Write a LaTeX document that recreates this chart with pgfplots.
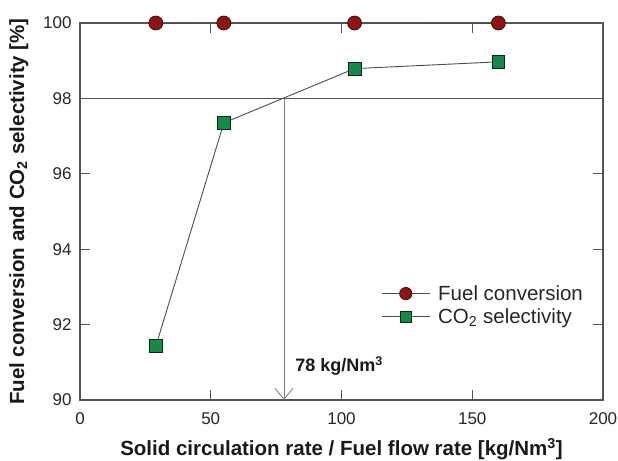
\documentclass[border=0pt]{standalone}
\usepackage{fontspec}
\setmainfont{Liberation Sans}
\usepackage{pgfplots}
\pgfplotsset{compat=1.18}
\usetikzlibrary{arrows.meta}
\definecolor{fuelred}{HTML}{8E1414}
\definecolor{cogreen}{HTML}{14894A}
\definecolor{axgray}{HTML}{555555}
\begin{document}
\begin{tikzpicture}
\begin{axis}[
  name=ax,
  scale only axis,
  width=523bp, height=377bp,
  xmin=0, xmax=200, ymin=90, ymax=100,
  xtick={0,50,100,150,200},
  ytick={90,92,94,96,98,100},
  tick align=inside,
  tick pos=both,
  xticklabel pos=bottom, yticklabel pos=left,
  major tick length=10bp,
  axis line style={axgray, line width=1.2bp},
  tick style={axgray, line width=1.1bp},
  /pgf/number format/assume math mode=true,
  ticklabel style={font=\fontsize{17bp}{19bp}\selectfont, text=black!85},
  xticklabel style={yshift=-9bp},
  yticklabel style={xshift=-5bp},
  xlabel={\textbf{Solid circulation rate / Fuel flow rate [kg/Nm\textsuperscript{3}]}},
  ylabel={\textbf{Fuel conversion and CO\textsubscript{2} selectivity [\%]}},
  label style={font=\fontsize{20.5bp}{23bp}\selectfont, text=black!90},
  xlabel style={yshift=-7bp},
  ylabel style={yshift=8bp},
  legend style={draw=none, fill=none, at={(rel axis cs:0.57,0.315)}, anchor=north west,
    font=\fontsize{20.5bp}{23bp}\selectfont, row sep=3bp, text=black!85},
  legend cell align=left,
  legend image code/.code={%
    \draw[mark repeat=2, mark phase=2, every mark/.append style={scale=0.88}, #1] plot coordinates {(0bp,0bp) (24bp,0bp) (48bp,0bp)};
    \path (54bp,0bp);},
  clip=false,
]
\draw[axgray, line width=1.2bp] (axis cs:0,98) -- (axis cs:200,98);
\draw[gray, line width=0.9bp, -{Straight Barb[length=11bp,width=18bp]}] (axis cs:78,98) -- (axis cs:78,90);
\addplot[black!70, line width=0.9bp, mark=*, mark size=7bp,
  mark options={fill=fuelred, draw=black!60!fuelred, line width=0.7bp}]
  coordinates {(29,100) (55,100) (105,100) (160,100)};
\addlegendentry{Fuel conversion}
\addplot[black!70, line width=0.9bp, mark=square*, mark size=6.3bp,
  mark options={fill=cogreen, draw=black!70!cogreen, line width=0.7bp}]
  coordinates {(29,91.43) (55,97.35) (105,98.79) (160,98.97)};
\addlegendentry{CO\textsubscript{2} selectivity}
\node[anchor=base west, font=\bfseries\fontsize{18bp}{21bp}\selectfont, text=black!90] at (axis cs:81,90.75) {78 kg/Nm\textsuperscript{3}};
\end{axis}
\pgfresetboundingbox
\path (ax.south west)+(-80bp,-61bp) coordinate (bl);
\path (ax.north east)+(15bp,23bp) coordinate (tr);
\path (bl) rectangle (tr);
\end{tikzpicture}
\end{document}
